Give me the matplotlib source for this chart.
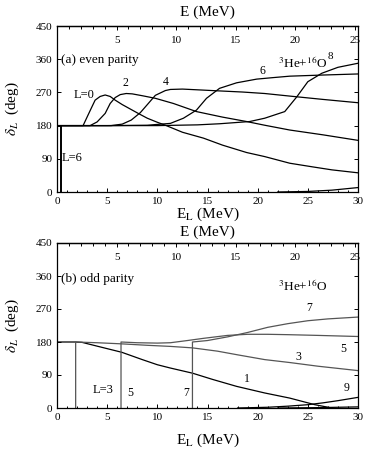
import matplotlib
matplotlib.use("Agg")
import matplotlib.pyplot as plt
from matplotlib.ticker import MultipleLocator

# lab energy -> cm energy for 3He + 16O
RATIO = 16.0 / 19.0

# (a) even parity, phase shifts (deg) vs E_L (MeV)
even_L0_x = [0, 2.6, 3.1, 3.5, 3.8, 4.3, 4.8, 5.3, 5.8, 6.5, 7.3, 8.1, 9.0, 10.0, 10.8, 12.5, 14.6, 16.5, 18.9, 20.7, 23.2, 25.5, 27.4, 30]
even_L0_y = [180, 180, 209, 232, 249, 259, 263, 259, 249, 237, 225, 213, 200, 189, 181, 162, 146, 127, 107, 96, 78, 68, 60, 52]
even_L2_x = [0, 3.3, 4.0, 4.8, 5.3, 5.8, 6.3, 6.9, 7.5, 8.5, 9.8, 11.6, 13.9, 16.5, 18.9, 20.7, 23.2, 26.5, 30]
even_L2_y = [180, 180, 190, 213, 240, 256, 264, 267, 266, 261, 254, 240, 218, 203, 191, 181, 168, 155, 140]
even_L4_x = [0, 5.4, 6.5, 7.4, 8.3, 9.1, 9.8, 10.8, 11.3, 12.5, 14, 16.2, 18.5, 20.7, 23.2, 26.5, 30]
even_L4_y = [180, 180, 184, 195, 215, 240, 262, 275, 278, 279, 277, 274, 271, 267, 260, 251, 242]
even_L6_x = [0.37, 0.37, 5, 9, 11.3, 12.6, 13.9, 14.9, 16.2, 17.9, 19.9, 21.5, 23.2, 26.4, 30]
even_L6_y = [0, 180, 180, 181, 186, 200, 222, 254, 281, 296, 306, 310, 314, 317, 320]
even_L8_x = [0, 10, 14, 16.2, 19.2, 20.7, 22.7, 23.9, 25.0, 26.4, 28.0, 30]
even_L8_y = [180, 180, 182, 185, 191, 200, 218, 258, 299, 322, 338, 349]
even_L10_x = [22, 25, 27.4, 30]
even_L10_y = [0, 1.5, 5, 12]

# (b) odd parity
odd_L1_x = [0, 1.8, 2.5, 4.1, 6.45, 8.5, 10, 11.3, 13.5, 15.5, 17.9, 20.7, 23.2, 25.7, 27.4]
odd_L1_y = [180, 180, 179, 168, 152, 132, 118, 109, 95, 78, 59, 41, 27, 9, 0]
odd_L3_x = [1.86, 1.86, 4, 6.4, 9, 11.3, 13.5, 16, 18, 20.7, 23.2, 26, 28, 30]
odd_L3_y = [0, 180, 178, 175, 171, 168, 164, 155, 145, 132, 124, 114, 108, 102]
odd_L5_x = [6.38, 6.38, 8, 10, 11.3, 13, 14.6, 17, 19, 21, 23, 26, 30]
odd_L5_y = [0, 180, 178, 177, 178, 184, 190, 198, 201, 201, 200, 198, 195]
odd_L7_x = [13.5, 13.5, 15, 17, 19, 21, 23, 25, 27, 30]
odd_L7_y = [0, 180, 184, 194, 206, 220, 230, 238, 243, 248]
odd_L9_x = [18, 21, 23, 25, 26.5, 28, 30]
odd_L9_y = [0, 2, 5, 9, 14, 20, 29]
odd_L11_x = [22, 26, 30]
odd_L11_y = [0, 1, 3]

plt.rcParams['font.family'] = ['Liberation Serif', 'DejaVu Serif']
plt.rcParams['mathtext.fontset'] = 'stix'

fig = plt.figure(figsize=(3.82, 4.54), dpi=100)
ax1 = fig.add_axes([57 / 382, 1 - 192 / 454, 301 / 382, 166 / 454])
ax2 = fig.add_axes([57 / 382, 1 - 408 / 454, 301 / 382, 165 / 454])


def setup(ax, top_label_y):
    ax.set_xlim(0, 30)
    ax.set_ylim(0, 450)
    ax.xaxis.set_major_locator(MultipleLocator(5))
    ax.xaxis.set_minor_locator(MultipleLocator(1))
    ax.yaxis.set_major_locator(MultipleLocator(90))
    ax.tick_params(which='both', direction='in', top=False, right=True, labelsize=8, width=0.7)
    ax.tick_params(which='major', length=3)
    ax.tick_params(which='minor', length=1.8)
    for s in ax.spines.values():
        s.set_linewidth(0.9)
    ax.set_ylabel(r'$\delta_L$  (deg)', fontsize=11)
    ax.yaxis.set_label_coords(-0.12, 0.5)
    sec = ax.secondary_xaxis('top', functions=(lambda x: x * RATIO, lambda x: x / RATIO))
    sec.xaxis.set_major_locator(MultipleLocator(5))
    sec.xaxis.set_minor_locator(MultipleLocator(1))
    sec.tick_params(which='both', direction='in', labelsize=8, pad=-14, width=0.7)
    sec.tick_params(which='major', length=3)
    sec.tick_params(which='minor', length=1.8)
    sec.set_xticks([5, 10, 15, 20, 25])
    sec.spines['top'].set_linewidth(0.9)
    sec.set_xlabel('E (MeV)', fontsize=11, va='center')
    sec.xaxis.set_label_coords(0.5, top_label_y, transform=ax.transAxes)
    return sec


setup(ax1, 1 + 14 / 166)
setup(ax2, 1 + 11 / 165)

kw = dict(color='black', lw=0.9)
ax1.plot(even_L0_x, even_L0_y, **kw)
ax1.plot(even_L2_x, even_L2_y, **kw)
ax1.plot(even_L4_x, even_L4_y, **kw)
# narrow L=6 jump drawn heavier, rest of the curve normal
ax1.plot(even_L6_x[:2], even_L6_y[:2], color='black', lw=1.4)
ax1.plot(even_L6_x[1:], even_L6_y[1:], **kw)
ax1.plot(even_L8_x, even_L8_y, **kw)
ax1.plot(even_L10_x, even_L10_y, **kw)

ax1.text(0.4, 357, '(a) even parity', fontsize=9.5, va='center')
ax1.text(1.7, 263, 'L=0', fontsize=9, va='center')
ax1.text(6.5, 296, '2', fontsize=8.5, va='center')
ax1.text(10.5, 299, '4', fontsize=8.5, va='center')
ax1.text(20.2, 329, '6', fontsize=8.5, va='center')
ax1.text(22.0, 350, r'$^3$He+$^{16}$O', fontsize=9.5, va='center')
ax1.text(27.0, 366, '8', fontsize=8, va='center')
ax1.text(0.5, 92, 'L=6', fontsize=9, va='center')
ax1.set_xlabel(r'E$_\mathrm{L}$ (MeV)', fontsize=11)
ax1.xaxis.set_label_coords(0.5, -0.085)

gray = dict(color='#555555', lw=0.9)
ax2.plot(odd_L1_x, odd_L1_y, **kw)
ax2.plot(odd_L3_x, odd_L3_y, **gray)
ax2.plot(odd_L5_x, odd_L5_y, **gray)
ax2.plot(odd_L7_x, odd_L7_y, **gray)
ax2.plot(odd_L9_x, odd_L9_y, **kw)
ax2.plot(odd_L11_x, odd_L11_y, **kw)

ax2.text(0.4, 352, '(b) odd parity', fontsize=9.5, va='center')
ax2.text(22.0, 332, r'$^3$He+$^{16}$O', fontsize=9.5, va='center')
ax2.text(24.8, 272, '7', fontsize=8.5, va='center')
ax2.text(28.2, 160, '5', fontsize=8.5, va='center')
ax2.text(23.8, 140, '3', fontsize=8.5, va='center')
ax2.text(18.6, 78, '1', fontsize=8.5, va='center')
ax2.text(28.6, 55, '9', fontsize=8.5, va='center')
ax2.text(3.6, 50, 'L=3', fontsize=9, va='center')
ax2.text(7.0, 40, '5', fontsize=8.5, va='center')
ax2.text(12.6, 40, '7', fontsize=8.5, va='center')
ax2.set_xlabel(r'E$_\mathrm{L}$ (MeV)', fontsize=11)
ax2.xaxis.set_label_coords(0.5, -0.145)

fig.savefig('out.png', dpi=100)
